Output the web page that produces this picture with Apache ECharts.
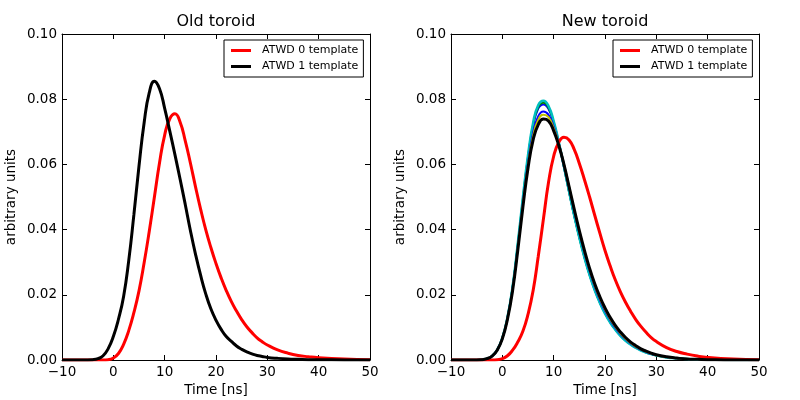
<!DOCTYPE html>
<html><head><meta charset="utf-8">
<script src="https://cdn.jsdelivr.net/npm/echarts@6/dist/echarts.min.js"></script>
<style>html,body{margin:0;padding:0;background:#fff}#c{width:800px;height:400px}</style>
</head><body><div id="c"></div>
<script>
// Time sampling (ns)
const time = [-10,-6,-4,-3,-2,-1,0,1,2,3,4,5,6,7,8,9,10,11,12,13,14,15,16,17,18,19,20,21,22,23,24,25,26,27,28,29,30,32,34,36,38,40,45,50];

// Old toroid
const oldAtwd0 = [0,0,0,0,0,0.0001,0.0006,0.0020,0.0048,0.0090,0.0145,0.0212,0.0298,0.0395,0.0500,0.0605,0.0690,0.0740,0.0755,0.0730,0.0673,0.0605,0.0532,0.0463,0.0400,0.0345,0.0296,0.0252,0.0213,0.0179,0.0150,0.0124,0.0102,0.0084,0.0068,0.0056,0.0046,0.0031,0.0021,0.0014,0.0010,0.0007,0.0003,0.0001];
const oldAtwd1 = [0,0,0.0001,0.0004,0.0013,0.0035,0.0072,0.0125,0.0195,0.0305,0.0445,0.0595,0.0728,0.0820,0.0855,0.0832,0.0772,0.0702,0.0630,0.0555,0.0478,0.0398,0.0325,0.0260,0.0203,0.0157,0.0122,0.0094,0.0072,0.0057,0.0043,0.0033,0.0025,0.0019,0.0014,0.0011,0.0008,0.0005,0.0003,0.0002,0.0001,0.0001,0,0];

// New toroid
const newAtwd0 = [0,0,0,0,0,0.0001,0.0004,0.0013,0.0030,0.0055,0.0088,0.0140,0.0213,0.0318,0.0432,0.0545,0.0625,0.0668,0.0683,0.0675,0.0646,0.0603,0.0553,0.0500,0.0444,0.0389,0.0336,0.0289,0.0246,0.0209,0.0177,0.0149,0.0124,0.0103,0.0085,0.0069,0.0057,0.0038,0.0026,0.0018,0.0012,0.0008,0.0003,0.0001];
const newAtwd1 = [0,0,0.0001,0.0004,0.0012,0.0030,0.0065,0.0125,0.0213,0.0335,0.0468,0.0588,0.0675,0.0722,0.0739,0.0733,0.0703,0.0658,0.0600,0.0532,0.0463,0.0397,0.0336,0.0281,0.0234,0.0194,0.0160,0.0131,0.0106,0.0086,0.0069,0.0055,0.0044,0.0034,0.0027,0.0021,0.0016,0.0010,0.0006,0.0003,0.0002,0.0001,0,0];
const newBlueA = [0,0,0.0001,0.0004,0.0012,0.0031,0.0067,0.0129,0.0222,0.0350,0.0490,0.0618,0.0717,0.0771,0.0784,0.0770,0.0726,0.0664,0.0591,0.0516,0.0443,0.0377,0.0316,0.0262,0.0216,0.0177,0.0144,0.0117,0.0095,0.0076,0.0061,0.0049,0.0039,0.0031,0.0024,0.0019,0.0015,0.0009,0.0005,0.0003,0.0002,0.0001,0,0];
const newGreen = [0,0,0.0001,0.0004,0.0012,0.0031,0.0067,0.0130,0.0224,0.0353,0.0494,0.0623,0.0722,0.0776,0.0789,0.0774,0.0729,0.0666,0.0592,0.0516,0.0443,0.0376,0.0315,0.0261,0.0215,0.0176,0.0143,0.0116,0.0094,0.0075,0.0060,0.0048,0.0038,0.0030,0.0023,0.0018,0.0014,0.0009,0.0005,0.0003,0.0001,0.0001,0,0];
const newCyan = [0,0,0.0001,0.0004,0.0012,0.0031,0.0068,0.0131,0.0226,0.0356,0.0498,0.0628,0.0728,0.0782,0.0795,0.0779,0.0733,0.0669,0.0594,0.0517,0.0443,0.0375,0.0314,0.0260,0.0214,0.0175,0.0142,0.0115,0.0093,0.0074,0.0059,0.0047,0.0037,0.0029,0.0023,0.0018,0.0014,0.0008,0.0005,0.0003,0.0001,0.0001,0,0];
const newBlueB = [0,0,0.0001,0.0004,0.0012,0.0030,0.0066,0.0127,0.0218,0.0343,0.0480,0.0603,0.0697,0.0748,0.0762,0.0752,0.0716,0.0665,0.0600,0.0529,0.0458,0.0390,0.0328,0.0273,0.0225,0.0185,0.0151,0.0123,0.0099,0.0080,0.0064,0.0051,0.0040,0.0032,0.0025,0.0019,0.0015,0.0009,0.0005,0.0003,0.0002,0.0001,0,0];
const newOlive = [0,0,0.0001,0.0004,0.0012,0.0030,0.0066,0.0126,0.0216,0.0340,0.0475,0.0597,0.0688,0.0737,0.0752,0.0745,0.0711,0.0663,0.0601,0.0532,0.0462,0.0394,0.0332,0.0277,0.0229,0.0189,0.0155,0.0126,0.0102,0.0082,0.0066,0.0052,0.0041,0.0033,0.0026,0.0020,0.0015,0.0009,0.0005,0.0003,0.0002,0.0001,0,0];

const xTicks = [-10, 0, 10, 20, 30, 40, 50];
const yTicks = [0, 0.02, 0.04, 0.06, 0.08, 0.10];
const titles = ['Old toroid', 'New toroid'];
const name0 = 'ATWD 0 template', name1 = 'ATWD 1 template';

const FONT = 'DejaVu Sans';
const pair = (ys) => time.map((t, i) => [t, ys[i]]);

const grids = [
  {left: 62, top: 34, width: 308, height: 326, outerBoundsMode: 'none', containLabel: false},
  {left: 451, top: 34, width: 308, height: 326, outerBoundsMode: 'none', containLabel: false}
];

function xAx(g, pos, showLabel) {
  return {
    type: 'value', gridIndex: g, position: pos, min: xTicks[0], max: xTicks[xTicks.length-1], interval: 10,
    axisLine: {show: true, onZero: false, lineStyle: {color: '#000', width: 1}},
    axisTick: {show: true, inside: true, length: 5, lineStyle: {color: '#000'}},
    axisLabel: {show: showLabel, color: '#000', fontFamily: FONT, fontSize: 13.5, margin: 5,
      formatter: v => String(v).replace('-', '\u2212')},
    splitLine: {show: false},
    name: showLabel ? 'Time [ns]' : '', nameLocation: 'middle', nameGap: 21,
    nameTextStyle: {color: '#000', fontFamily: FONT, fontSize: 13.5}
  };
}
function yAx(g, pos, showLabel) {
  return {
    type: 'value', gridIndex: g, position: pos, min: yTicks[0], max: yTicks[yTicks.length-1], interval: 0.02,
    axisLine: {show: true, onZero: false, lineStyle: {color: '#000', width: 1}},
    axisTick: {show: true, inside: true, length: 5, lineStyle: {color: '#000'}},
    axisLabel: {show: showLabel, color: '#000', fontFamily: FONT, fontSize: 13.5, margin: 5,
      formatter: v => v.toFixed(2)},
    splitLine: {show: false},
    name: showLabel ? 'arbitrary units' : '', nameLocation: 'middle', nameGap: 44,
    nameTextStyle: {color: '#000', fontFamily: FONT, fontSize: 13.5}
  };
}

const xAxes = [xAx(0,'bottom',true), xAx(0,'top',false), xAx(1,'bottom',true), xAx(1,'top',false)];
const yAxes = [yAx(0,'left',true), yAx(0,'right',false), yAx(1,'left',true), yAx(1,'right',false)];

function line(name, ys, color, width, xi, yi, z) {
  return {
    type: 'line', name: name, data: pair(ys), xAxisIndex: xi, yAxisIndex: yi,
    showSymbol: false, symbol: 'none', smooth: true,
    lineStyle: {color: color, width: width}, itemStyle: {color: color},
    z: z, silent: true, animation: false
  };
}

const series = [
  line(name0, oldAtwd0, '#ff0000', 3, 0, 0, 3),
  line(name1, oldAtwd1, '#000000', 3, 0, 0, 4),
  line('ch1', newBlueA, '#0000ff', 2, 2, 2, 2),
  line('ch2', newGreen, '#008000', 2, 2, 2, 2),
  line('ch3', newCyan, '#00bfbf', 2.5, 2, 2, 2),
  line('ch4', newBlueB, '#0000ff', 2, 2, 2, 2),
  line('ch5', newOlive, '#bfbf00', 2, 2, 2, 2),
  line(name0, newAtwd0, '#ff0000', 3, 2, 2, 3),
  line(name1, newAtwd1, '#000000', 3, 2, 2, 4)
];

function legend(left) {
  return {
    data: [name0, name1], orient: 'vertical', left: left, top: 40,
    backgroundColor: '#fff', borderColor: '#000', borderWidth: 1, borderRadius: 0,
    padding: [4, 5, 4, 7], itemGap: 3, itemWidth: 20, itemHeight: 3, icon: 'rect',
    textStyle: {color: '#000', fontFamily: FONT, fontSize: 11, lineHeight: 13, padding: [0,0,0,6]},
    selectedMode: false
  };
}

const chart = echarts.init(document.getElementById('c'), null, {renderer: 'canvas'});
chart.setOption({
  animation: false,
  backgroundColor: '#fff',
  grid: grids,
  xAxis: xAxes,
  yAxis: yAxes,
  legend: [legend(224), legend(613)],
  graphic: [
    {type: 'text', x: 216, y: 22, style: {text: titles[0], fill: '#000', font: '16px "DejaVu Sans"', textAlign: 'center', textVerticalAlign: 'middle'}},
    {type: 'text', x: 605, y: 22, style: {text: titles[1], fill: '#000', font: '16px "DejaVu Sans"', textAlign: 'center', textVerticalAlign: 'middle'}}
  ],
  series: series
});
</script>
</body></html>
